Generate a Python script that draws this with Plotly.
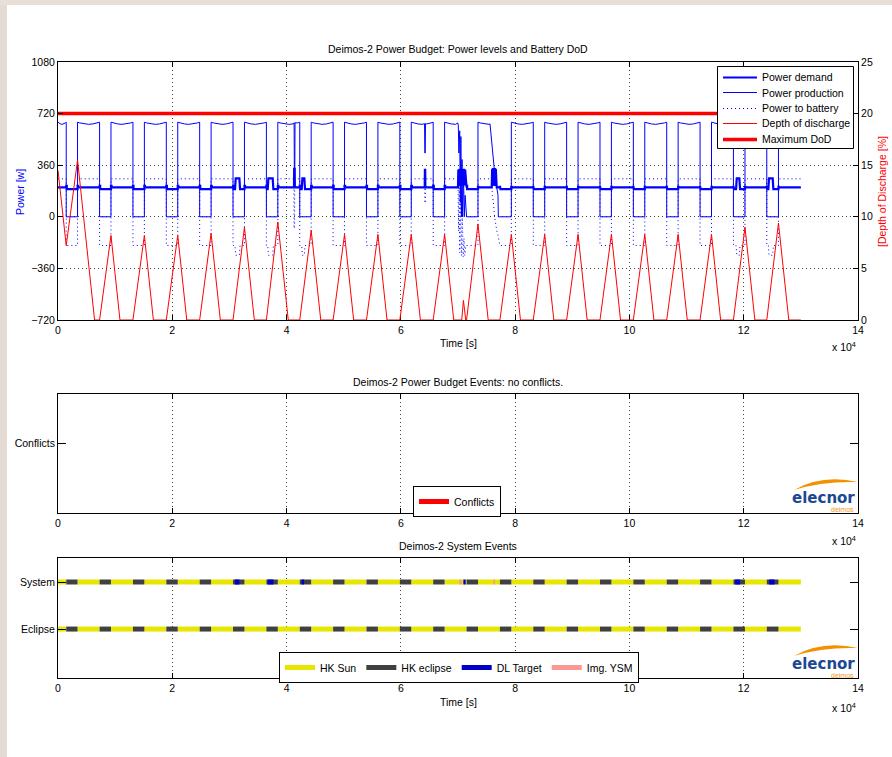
import plotly.graph_objects as go

# ====================== DATA ======================
t_end = 130000
x_tick_vals = [0, 20000, 40000, 60000, 80000, 100000, 120000, 140000]
x_tick_text = ["0", "2", "4", "6", "8", "10", "12", "14"]
power_ticks = [-720, -360, 0, 360, 720, 1080]
dod_ticks = [0, 5, 10, 15, 20, 25]

# eclipse intervals [s]
ecl_start = [1440, 7278, 13116, 18954, 24792, 30630, 36468, 42306, 48144, 53982, 59820,
             65658, 71496, 77334, 83172, 89010, 94848, 100686, 106524, 112362, 118200, 124038]
ecl_end = [3420, 9270, 15116, 20954, 26792, 32630, 38468, 44306, 50144, 55982, 61820,
           67658, 73496, 79334, 85172, 91010, 96848, 102686, 108524, 114362, 120220, 126080]

# power production in sunlight (profile across each sun arc) [W]
prod_prof_frac = [0.0, 0.1, 0.3, 0.5, 0.7, 0.9, 1.0]
prod_prof_w = [660, 655, 648, 645, 648, 655, 660]
prod_ecl_w = 0

# power demand levels [W]
dem_sun_w = 205
dem_ecl_w = 193
dem_edge_w = 216
dem_edge_s = 100

# power to battery levels [W]
bat_sun_w = 265
bat_ecl_w = -200

# depth of discharge [%]
dod_t0 = 14.5
dod_at_ecl_start = [7.2, 0, 0, 0, 0, 0, 0, 0, 0, 0, 0, 0, 0, 0, 0, 0, 0, 0, 0, 0, 0, 0]
dod_peak = [15.5, 8.2, 8.2, 8.2, 8.4, 9.0, 9.5, 8.7, 8.3, 8.3, 8.3, 8.3, 9.3, 8.3, 8.3,
            8.3, 8.3, 8.3, 8.3, 8.3, 9.0, 9.4]
dod_zero_t = [6401, 10847, 16693, 22531, 28407, 34361, 40295, 45979, 51740, 57578, 63416,
              69254, 75284, 80930, 86768, 92606, 98444, 104282, 110120, 115958, 121951, 127888]
max_dod = 20

# demand / battery bumps during downlinks in eclipse
dl_bump_start = [30980, 36700, 42650, 118660, 124310]
dl_bump_end = [31860, 37690, 43230, 119360, 125190]
dem_bump_w = 268
bat_bump_w = -268

# local disturbances
dem_anom_t = [
    [41300, 41330, 41420, 41450],
    [64180, 64210, 64260, 64290],
    [70000, 70060, 70150, 70250, 70350, 70450, 70550, 70650, 70750, 70850, 70950, 71050, 71150, 71250, 71350, 71450],
    [75900, 75980, 76060, 76140, 76220, 76300, 76380, 76460, 76540, 76620, 76700, 76780],
]
dem_anom_v = [
    [205, 335, 335, 205],
    [205, 327, 327, 205],
    [205, 330, 215, 335, 220, 330, 215, 335, 220, 330, 215, 335, 220, 330, 280, 205],
    [205, 335, 215, 340, 220, 335, 215, 340, 220, 335, 260, 205],
]
prod_anom_t = [
    [41320, 41360, 41440, 41480],
    [64150, 64200, 64260, 64310],
    [69950, 70050, 70150, 70300, 70400, 70500, 70600, 70700, 70800, 70950, 71100, 71250, 71400, 71496],
    [75600, 76480, 77000, 77060, 77334],
]
prod_anom_v = [
    [656, 330, 330, 656],
    [650, 445, 445, 650],
    [655, 640, 445, 600, 100, 560, 0, 400, 0, 300, 0, 150, 0, 0],
    [648, 280, 150, 0, 0],
]
bat_anom_t = [
    [41280, 41300, 41400, 41420],
    [64180, 64200, 64280, 64300],
    [70000, 70100, 70200, 70300, 70450, 70600, 70750, 70900, 71050, 71200, 71350, 71496],
    [75900, 76000, 76200, 76400, 76600, 76800, 77000, 77200, 77334],
]
bat_anom_v = [
    [265, -80, -80, 265],
    [265, 96, 96, 265],
    [265, -100, 200, -250, 100, -270, 50, -280, -150, -270, -200, -200],
    [265, 150, 100, 0, -60, -100, -130, -160, -200],
]
dod_anom_t = [[70650, 70950, 71200, 71350]]
dod_anom_v = [[0, 1.9, 0.9, 0]]

# conflicts (none)
conflict_t = []

# system events
dl_start = [30980, 36700, 42650, 70940, 118500, 124440]
dl_end = [31740, 37690, 43060, 71350, 119370, 125380]
img_start = [70240, 76200]
img_end = [70650, 76490]
row_system = 2
row_eclipse = 1

# legend entries of the top panel
top_legend_names = ["Power demand", "Power production", "Power to battery", "Depth of discharge", "Maximum DoD"]

# ====================== BUILD SERIES ======================
def merge(base, anoms_t, anoms_v):
    pts = list(base)
    for ts, vs in zip(anoms_t, anoms_v):
        a, b = ts[0], ts[-1]
        pts = [p for p in pts if not (a <= p[0] <= b)]
        pts += list(zip(ts, vs))
        pts.sort(key=lambda p: p[0])
    return [p[0] for p in pts], [p[1] for p in pts]

def sun_arc(a, b):
    return [(a + f * (b - a), w) for f, w in zip(prod_prof_frac, prod_prof_w)]

prod = []
prev = 0
for s, e in zip(ecl_start, ecl_end):
    prod += sun_arc(prev, s)
    prod += [(s, prod_ecl_w), (e, prod_ecl_w)]
    prev = e
prod += sun_arc(prev, t_end)

dem = [(0, dem_sun_w)]
for s, e in zip(ecl_start, ecl_end):
    dem += [(s, dem_sun_w), (s, dem_edge_w), (s + dem_edge_s, dem_edge_w), (s + dem_edge_s, dem_ecl_w),
            (e, dem_ecl_w), (e, dem_edge_w), (e + dem_edge_s, dem_edge_w), (e + dem_edge_s, dem_sun_w)]
dem.append((t_end, dem_sun_w))

bat = [(0, bat_sun_w)]
for s, e in zip(ecl_start, ecl_end):
    bat += [(s, bat_sun_w), (s, bat_ecl_w), (e, bat_ecl_w), (e, bat_sun_w)]
bat.append((t_end, bat_sun_w))

dod = [(0, dod_t0)]
for k, (s, e) in enumerate(zip(ecl_start, ecl_end)):
    dod += [(s, dod_at_ecl_start[k]), (e, dod_peak[k]), (dod_zero_t[k], 0)]
dod.append((t_end, 0))

dem_at = list(dem_anom_t) + [[a, a + 120, b - 120, b] for a, b in zip(dl_bump_start, dl_bump_end)]
dem_av = list(dem_anom_v) + [[dem_ecl_w, dem_bump_w, dem_bump_w, dem_ecl_w] for _ in dl_bump_start]
bat_at = list(bat_anom_t) + [[a, a + 120, b - 120, b] for a, b in zip(dl_bump_start, dl_bump_end)]
bat_av = list(bat_anom_v) + [[bat_ecl_w, bat_bump_w, bat_bump_w, bat_ecl_w] for _ in dl_bump_start]

dem_x, dem_y = merge(dem, dem_at, dem_av)
prod_x, prod_y = merge(prod, prod_anom_t, prod_anom_v)
bat_x, bat_y = merge(bat, bat_at, bat_av)
dod_x, dod_y = merge(dod, dod_anom_t, dod_anom_v)

def segs(intervals, row):
    xs, ys = [], []
    for a, b in intervals:
        xs += [a, b, None]
        ys += [row, row, None]
    return xs, ys

sun_int = [(0, ecl_start[0])] + [(ecl_end[k], ecl_start[k + 1]) for k in range(len(ecl_start) - 1)] + [(ecl_end[-1], t_end)]
ecl_int = list(zip(ecl_start, ecl_end))
sx1, sy1 = segs(sun_int, row_system)
sx2, sy2 = segs(sun_int, row_eclipse)
ex1, ey1 = segs(ecl_int, row_system)
ex2, ey2 = segs(ecl_int, row_eclipse)
dlx, dly = segs(list(zip(dl_start, dl_end)), row_system)
imx, imy = segs(list(zip(img_start, img_end)), row_system)

# ====================== FIGURE ======================
W, H = 892, 757
FONT = "Liberation Sans, Arial, Helvetica, sans-serif"
FS = 10.5
BLUE = "rgb(0,0,255)"
RED = "rgb(255,0,0)"

def px(x):
    return x / W

def py(y):
    return 1 - y / H

top_styles = [
    dict(color=BLUE, width=2.2),
    dict(color=BLUE, width=1),
    dict(color=BLUE, width=1, dash="1px,3px"),
    dict(color=RED, width=1),
    dict(color=RED, width=3.5),
]

fig = go.Figure()
fig.add_trace(go.Scatter(x=dem_x, y=dem_y, mode="lines", name=top_legend_names[0],
                         line=top_styles[0], xaxis="x", yaxis="y", showlegend=False))
fig.add_trace(go.Scatter(x=prod_x, y=prod_y, mode="lines", name=top_legend_names[1],
                         line=top_styles[1], xaxis="x", yaxis="y", showlegend=False))
fig.add_trace(go.Scatter(x=bat_x, y=bat_y, mode="lines", name=top_legend_names[2],
                         line=top_styles[2], xaxis="x", yaxis="y", showlegend=False))
fig.add_trace(go.Scatter(x=dod_x, y=dod_y, mode="lines", name=top_legend_names[3],
                         line=top_styles[3], xaxis="x", yaxis="y2", showlegend=False))
fig.add_trace(go.Scatter(x=[0, t_end], y=[max_dod, max_dod], mode="lines", name=top_legend_names[4],
                         line=top_styles[4], xaxis="x", yaxis="y2", showlegend=False))

fig.add_trace(go.Scatter(x=conflict_t if conflict_t else [None], y=[1] * len(conflict_t) if conflict_t else [None],
                         mode="lines", name="Conflicts", line=dict(color=RED, width=5),
                         xaxis="x2", yaxis="y3", legend="legend2"))

fig.add_trace(go.Scatter(x=sx1 + sx2, y=sy1 + sy2, mode="lines", name="HK Sun",
                         line=dict(color="rgb(230,230,0)", width=5), xaxis="x3", yaxis="y4", legend="legend3"))
fig.add_trace(go.Scatter(x=ex1 + ex2, y=ey1 + ey2, mode="lines", name="HK eclipse",
                         line=dict(color="rgb(64,64,64)", width=5), xaxis="x3", yaxis="y4", legend="legend3"))
fig.add_trace(go.Scatter(x=dlx, y=dly, mode="lines", name="DL Target",
                         line=dict(color="rgb(0,0,200)", width=5), xaxis="x3", yaxis="y4", legend="legend3"))
fig.add_trace(go.Scatter(x=imx, y=imy, mode="lines", name="Img. YSM",
                         line=dict(color="rgb(255,150,150)", width=5), xaxis="x3", yaxis="y4", legend="legend3"))

tickfont = dict(family=FONT, size=FS, color="black")
xdom = [px(58), px(858)]
common = dict(showline=True, linecolor="black", linewidth=1, ticks="inside", ticklen=5,
              tickcolor="black", tickwidth=1, tickfont=tickfont, zeroline=False)
xcommon = dict(common, range=[0, 140000], tickmode="array", tickvals=x_tick_vals, ticktext=x_tick_text,
               domain=xdom, mirror="ticks", showgrid=True, gridcolor="rgba(0,0,0,0.75)",
               griddash="1px,3px", gridwidth=1, layer="below traces")

layout = dict(
    width=W, height=H, margin=dict(l=0, r=0, t=0, b=0, autoexpand=False),
    paper_bgcolor="white", plot_bgcolor="white", showlegend=True,
    font=dict(family=FONT, size=FS, color="black"),
    xaxis=dict(xcommon, anchor="y"),
    yaxis=dict(common, domain=[py(320), py(62)], range=[-720, 1080], tickmode="array",
               tickvals=power_ticks, mirror="ticks", showgrid=True, gridcolor="rgba(0,0,0,0.75)",
               griddash="1px,3px", gridwidth=1, anchor="x"),
    yaxis2=dict(common, overlaying="y", side="right", range=[0, 25], tickmode="array",
                tickvals=dod_ticks, showgrid=False, anchor="x"),
    xaxis2=dict(xcommon, anchor="y3"),
    yaxis3=dict(common, domain=[py(513), py(394)], range=[0, 1.7], tickmode="array", tickvals=[1],
                ticktext=["Conflicts"], ticklen=8, mirror="ticks", showgrid=False, anchor="x2"),
    xaxis3=dict(xcommon, anchor="y4"),
    yaxis4=dict(common, domain=[py(678), py(558)], range=[-0.04, 2.51], tickmode="array",
                tickvals=[row_eclipse, row_system], ticktext=["Eclipse", "System"], ticklen=8,
                mirror="ticks", showgrid=False, anchor="x3"),
    legend2=dict(x=px(413), y=py(486), xanchor="left", yanchor="top", bgcolor="white",
                 bordercolor="black", borderwidth=1, font=dict(family=FONT, size=FS, color="black")),
    legend3=dict(x=px(279), y=py(652), xanchor="left", yanchor="top", bgcolor="white",
                 bordercolor="black", borderwidth=1, orientation="h",
                 font=dict(family=FONT, size=FS, color="black")),
)
fig.update_layout(**layout)

ann = []
def text(x, y, s, size=FS, color="black", angle=0, xa="center", ya="middle"):
    ann.append(dict(x=px(x), y=py(y), xref="paper", yref="paper", text=s,
                    showarrow=False, xanchor=xa, yanchor=ya, textangle=angle,
                    font=dict(family=FONT, size=size, color=color)))

text(458, 49, "Deimos-2 Power Budget: Power levels and Battery DoD")
text(458, 343, "Time [s]")
text(858, 347, "x 10<sup>4</sup>", xa="right")
text(20, 192, "Power [w]", color=BLUE, angle=-90)
text(882, 192, "[Depth of Discharge [%]", color=RED, angle=-90)
text(458, 382, "Deimos-2 Power Budget Events: no conflicts.")
text(858, 540, "x 10<sup>4</sup>", xa="right")
text(458, 546, "Deimos-2 System Events")
text(458, 702, "Time [s]")
text(858, 707, "x 10<sup>4</sup>", xa="right")

shapes = [
    dict(type="rect", xref="paper", yref="paper", x0=0, x1=px(7), y0=0, y1=1,
         fillcolor="rgb(228,220,212)", line=dict(width=0), layer="below"),
    dict(type="rect", xref="paper", yref="paper", x0=0, x1=1, y0=py(5), y1=1,
         fillcolor="rgb(232,224,216)", line=dict(width=0), layer="below"),
]

# top-panel legend (box, line samples and labels)
shapes.append(dict(type="rect", xref="paper", yref="paper", x0=px(717.5), x1=px(853.5), y0=py(148.5), y1=py(66.5),
                   fillcolor="white", line=dict(color="black", width=1)))
row_y = [77.5, 92.5, 108.5, 123.5, 139.5]
for name, st, yy in zip(top_legend_names, top_styles, row_y):
    shapes.append(dict(type="line", xref="paper", yref="paper", x0=px(723), x1=px(757), y0=py(yy), y1=py(yy),
                       line=dict(color=st["color"], width=st["width"], dash=st.get("dash", "solid"))))
    text(760, yy, name, xa="left")

def logo(cy):
    ann.append(dict(x=px(857), y=py(cy), xref="paper", yref="paper", text="<b>elecnor</b>",
                    showarrow=False, xanchor="right", yanchor="middle",
                    font=dict(family="DejaVu Sans, Liberation Sans, sans-serif", size=15, color="rgb(27,72,145)")))
    ann.append(dict(x=px(856), y=py(cy + 11), xref="paper", yref="paper", text="deimos",
                    showarrow=False, xanchor="right", yanchor="middle",
                    font=dict(family=FONT, size=7, color="rgb(240,150,30)")))
    p = "M %f %f Q %f %f %f %f Q %f %f %f %f Z" % (
        px(794), py(cy - 8), px(822), py(cy - 24), px(858), py(cy - 16),
        px(822), py(cy - 17), px(794), py(cy - 8))
    shapes.append(dict(type="path", xref="paper", yref="paper", path=p,
                       fillcolor="rgb(243,146,0)", line=dict(width=0)))

logo(498)
logo(664)

fig.update_layout(annotations=ann, shapes=shapes)
fig.write_html("out.html")
